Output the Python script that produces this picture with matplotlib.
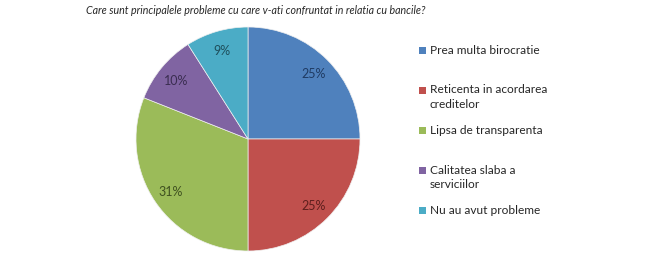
import matplotlib
matplotlib.use('Agg')
import matplotlib.pyplot as plt
from matplotlib.patches import Rectangle

plt.rcParams['font.family'] = ['Lato', 'DejaVu Sans']

title = 'Care sunt principalele probleme cu care v-ati confruntat in relatia cu bancile?'
labels = ['Prea multa birocratie',
          'Reticenta in acordarea\ncreditelor',
          'Lipsa de transparenta',
          'Calitatea slaba a\nserviciilor',
          'Nu au avut probleme']
values = [25, 25, 31, 10, 9]
colors = ['#4F81BD', '#C0504D', '#9BBB59', '#8064A2', '#4BACC6']
text_colors = ['#1F3B63', '#5E1F1D', '#3F5120', '#3A2D50', '#1E4F5C']

W, H = 650, 255
fig = plt.figure(figsize=(W / 100, H / 100), dpi=100)

# pie centre at (248, 140) px, radius 112 px
cx, cy, r = 248, 140, 112
ax = fig.add_axes([(cx - r) / W, (H - cy - r) / H, 2 * r / W, 2 * r / H])
wedges, texts, autotexts = ax.pie(values, colors=colors, startangle=90, counterclock=False,
                                  autopct='%d%%', pctdistance=0.83, radius=1.0,
                                  wedgeprops=dict(linewidth=0.5, edgecolor='#f0f0f0'),
                                  textprops=dict(fontsize=9))
for t, c in zip(autotexts, text_colors):
    t.set_color(c)
ax.set_xlim(-1, 1)
ax.set_ylim(-1, 1)
ax.set_aspect('equal')

fig.text(256 / W, 1 - 10 / H, title, ha='center', va='center', fontsize=7.7,
         style='italic', color='#262626')

# legend, one slot every 40 px
for i, (lab, col) in enumerate(zip(labels, colors)):
    y = 51 + 40 * i
    fig.patches.append(Rectangle((419 / W, 1 - (y + 3.5) / H), 7 / W, 7 / H,
                                 transform=fig.transFigure, facecolor=col,
                                 edgecolor='none'))
    fig.text(430 / W, 1 - (y - 6.5) / H, lab, ha='left', va='top', fontsize=8.6,
             color='#262626', linespacing=1.4)

fig.savefig('out.png', dpi=100)
